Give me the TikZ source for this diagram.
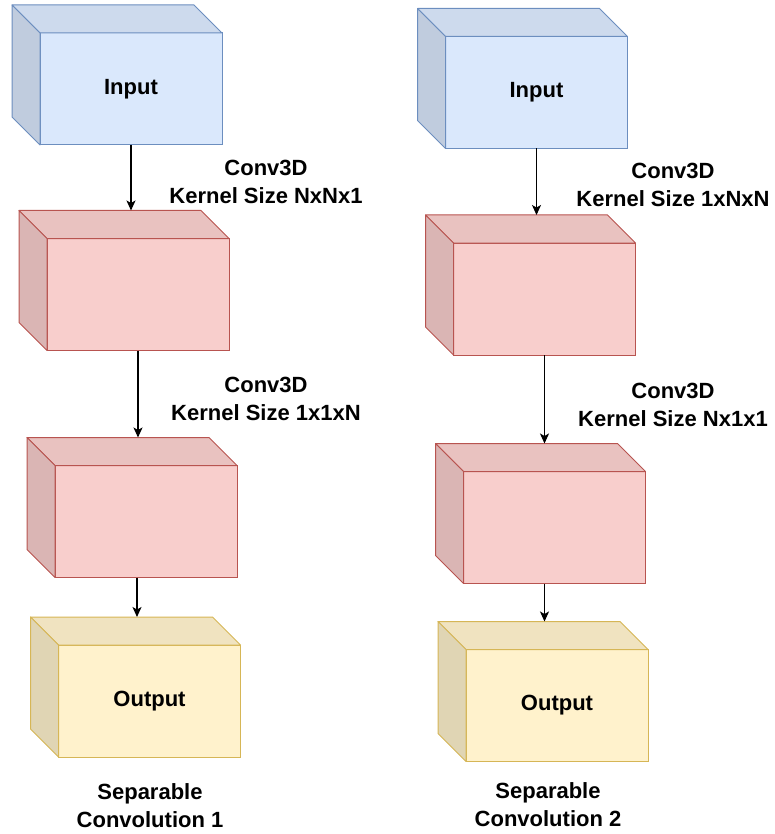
\documentclass[tikz,border=0pt]{standalone}
\usepackage{fontspec}
\setmainfont{Liberation Sans}
\usetikzlibrary{arrows.meta}
\definecolor{inblue}{HTML}{DAE8FC}
\definecolor{inbluedraw}{HTML}{6C8EBF}
\definecolor{convred}{HTML}{F8CECC}
\definecolor{convreddraw}{HTML}{B85450}
\definecolor{outyellow}{HTML}{FFF2CC}
\definecolor{outyellowdraw}{HTML}{D6B656}
\newcommand{\cubedepth}{28}
\newcommand{\labelfont}{\fontsize{22}{28}\selectfont\bfseries}
\tikzset{cubefront/.style={draw, line width=1pt, inner sep=0pt, outer sep=0pt, minimum width=182pt, minimum height=112pt, font=\labelfont}}
\tikzset{flow/.style={-{Stealth[length=10pt,width=9pt,inset=2.5pt]}, line width=1.1pt}}
\tikzset{convlabel/.style={align=center, font=\labelfont, inner sep=0pt}}
% top and left faces of a cube whose front is node #1
\newcommand{\cubesides}[3]{%
  \filldraw[fill=#2!94!black, draw=#3, line width=1pt, line join=round] (#1.north west) -- ++(-\cubedepth,-\cubedepth) -- ++(182,0) -- (#1.north east) -- cycle;
  \filldraw[fill=#2!88!black, draw=#3, line width=1pt, line join=round] (#1.north west) -- ++(-\cubedepth,-\cubedepth) -- ++(0,112) -- (#1.south west) -- cycle;
  \path (#1.north west) ++(-\cubedepth,-\cubedepth) coordinate (#1-back);
}
\begin{document}
\begin{tikzpicture}[x=1pt, y=-1pt]
\useasboundingbox (0,0) rectangle (774,834);

% first column
\node[cubefront, fill=inblue, draw=inbluedraw] (in1) at (131,89) {Input}; \cubesides{in1}{inblue}{inbluedraw}
\node[cubefront, fill=convred, draw=convreddraw] (conv1a) at (138,294.5) {}; \cubesides{conv1a}{convred}{convreddraw}
\node[cubefront, fill=convred, draw=convreddraw] (conv1b) at (146,521.5) {}; \cubesides{conv1b}{convred}{convreddraw}
\node[cubefront, fill=outyellow, draw=outyellowdraw] (out1) at (149.5,701) {Output}; \cubesides{out1}{outyellow}{outyellowdraw}

\draw[flow] (in1.south) -- (in1.south |- conv1a-back);
\draw[flow] (conv1a.south) -- (conv1a.south |- conv1b-back);
\draw[flow] ([xshift=-9pt]conv1b.south) -- ([xshift=-9pt]conv1b.south |- out1-back);

\node[convlabel] (k1a) at (266,182) {Conv3D\\Kernel Size NxNx1};
\node[convlabel] (k1b) at (266,399) {Conv3D\\Kernel Size 1x1xN};
\node[convlabel] (cap1) at (150,805.5) {Separable\\Convolution 1};

% second column
\node[cubefront, fill=inblue, draw=inbluedraw] (in2) at (536.5,92.5) {Input}; \cubesides{in2}{inblue}{inbluedraw}
\node[cubefront, fill=convred, draw=convreddraw] (conv2a) at (544.5,299) {}; \cubesides{conv2a}{convred}{convreddraw}
\node[cubefront, fill=convred, draw=convreddraw] (conv2b) at (554.5,527.5) {}; \cubesides{conv2b}{convred}{convreddraw}
\node[cubefront, fill=outyellow, draw=outyellowdraw] (out2) at (557,705.5) {Output}; \cubesides{out2}{outyellow}{outyellowdraw}

\draw[flow] (in2.south) -- (in2.south |- conv2a-back);
\draw[flow] (conv2a.south) -- (conv2a.south |- conv2b-back);
\draw[flow] ([xshift=-10pt]conv2b.south) -- ([xshift=-10pt]conv2b.south |- out2-back);

\node[convlabel] (k2a) at (673,185) {Conv3D\\Kernel Size 1xNxN};
\node[convlabel] (k2b) at (673,405) {Conv3D\\Kernel Size Nx1x1};
\node[convlabel] (cap2) at (548,805) {Separable\\Convolution 2};

\end{tikzpicture}
\end{document}
